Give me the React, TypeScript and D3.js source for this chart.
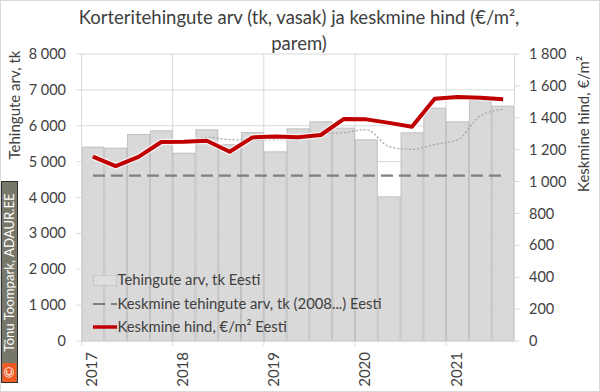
import React, { useRef, useEffect } from 'react';
import * as d3 from 'd3';

const quarters = [
  '2017 Q1', '2017 Q2', '2017 Q3', '2017 Q4',
  '2018 Q1', '2018 Q2', '2018 Q3', '2018 Q4',
  '2019 Q1', '2019 Q2', '2019 Q3', '2019 Q4',
  '2020 Q1', '2020 Q2', '2020 Q3', '2020 Q4',
  '2021 Q1', '2021 Q2', '2021 Q3',
];
const counts = [5403, 5375, 5755, 5858, 5235, 5886, 5470, 5810, 5272, 5914, 6109, 5933, 5607, 4017, 5802, 6490, 6109, 6703, 6546];
const prices = [1156, 1097, 1155, 1248, 1250, 1256, 1187, 1277, 1283, 1278, 1292, 1392, 1390, 1368, 1344, 1520, 1530, 1526, 1516];
// dotted trend (4 quarter moving average shown in chart), from Q4 2017 on
const trend = [5598, 5556, 5683, 5612, 5600, 5610, 5617, 5776, 5807, 5891, 5417, 5340, 5479, 5605, 6276, 6462];
const avgCount = 4611;
const years = ['2017', '2018', '2019', '2020', '2021'];
const leftTicks = [0, 1000, 2000, 3000, 4000, 5000, 6000, 7000, 8000];
const rightTicks = [0, 200, 400, 600, 800, 1000, 1200, 1400, 1600, 1800];

const FONT = 'Lato, "Open Sans", sans-serif';
const TXT = '#404040';

const App = () => {
  const ref = useRef<SVGSVGElement>(null);

  useEffect(() => {
    const svg = d3.select(ref.current);
    svg.selectAll('*').remove();
    const W = 600, H = 392;
    const left = 81.5, right = 514.5, top = 54, bottom = 341;

    svg.attr('width', W).attr('height', H);
    svg.append('rect').attr('x', 0.5).attr('y', 0.5).attr('width', W - 1).attr('height', H - 1)
      .attr('fill', '#fff').attr('stroke', '#d9d9d9');

    const x = d3.scaleBand().domain(quarters).range([left, right]).padding(0);
    const yL = d3.scaleLinear().domain([0, 8000]).range([bottom, top]);
    const yR = d3.scaleLinear().domain([0, 1800]).range([bottom, top]);
    const fmt = d3.formatLocale({ decimal: ',', thousands: '\u00a0', grouping: [3], currency: ['', ''] }).format(',d');
    const cx = (i: number) => x(quarters[i])! + x.bandwidth() / 2;

    // gridlines
    svg.append('g').selectAll('line').data(leftTicks.slice(1)).join('line')
      .attr('x1', left).attr('x2', right).attr('y1', (d) => yL(d)).attr('y2', (d) => yL(d))
      .attr('stroke', '#d9d9d9');
    const yearIdx = years.map((y) => quarters.indexOf(y + ' Q1'));
    svg.append('g').selectAll('line').data(yearIdx.slice(1)).join('line')
      .attr('x1', (i) => x(quarters[i])!).attr('x2', (i) => x(quarters[i])!)
      .attr('y1', top).attr('y2', bottom + 5).attr('stroke', '#d9d9d9');

    // bars
    svg.append('g').selectAll('rect').data(counts).join('rect')
      .attr('x', (d, i) => x(quarters[i])! + 0.5)
      .attr('y', (d) => yL(d))
      .attr('width', x.bandwidth() - 1)
      .attr('height', (d) => bottom - yL(d))
      .attr('fill', '#d9d9d9').attr('stroke', '#bfbfbf').attr('stroke-width', 1);

    // axes lines
    const axisG = svg.append('g').attr('stroke', '#d9d9d9');
    axisG.append('line').attr('x1', left).attr('x2', left).attr('y1', top).attr('y2', bottom + 5);
    axisG.append('line').attr('x1', right).attr('x2', right).attr('y1', top).attr('y2', bottom);
    axisG.append('line').attr('x1', left).attr('x2', right).attr('y1', bottom).attr('y2', bottom);
    axisG.selectAll('.lt').data(leftTicks).join('line').attr('class', 'lt')
      .attr('x1', left - 5).attr('x2', left).attr('y1', (d) => yL(d)).attr('y2', (d) => yL(d));
    axisG.selectAll('.rt').data(rightTicks).join('line').attr('class', 'rt')
      .attr('x1', right).attr('x2', right + 5).attr('y1', (d) => yR(d)).attr('y2', (d) => yR(d));

    // trend dotted
    const trendLine = d3.line<number>()
      .x((d, i) => cx(i + quarters.length - trend.length))
      .y((d) => yL(d))
      .curve(d3.curveMonotoneX);
    svg.append('path').datum(trend).attr('d', trendLine)
      .attr('fill', 'none').attr('stroke', '#a6a6a6').attr('stroke-width', 1.3)
      .attr('stroke-dasharray', '2,2');

    // average dashed
    svg.append('line')
      .attr('x1', cx(0)).attr('x2', cx(quarters.length - 1))
      .attr('y1', yL(avgCount)).attr('y2', yL(avgCount))
      .attr('stroke', '#7f7f7f').attr('stroke-width', 2.2).attr('stroke-dasharray', '12,6');

    // price line
    const priceLine = d3.line<number>().x((d, i) => cx(i)).y((d) => yR(d));
    svg.append('path').datum(prices).attr('d', priceLine)
      .attr('fill', 'none').attr('stroke', '#fff').attr('stroke-opacity', 0.7)
      .attr('stroke-width', 6.5).attr('stroke-linejoin', 'round');
    svg.append('path').datum(prices).attr('d', priceLine)
      .attr('fill', 'none').attr('stroke', '#c00000').attr('stroke-width', 4)
      .attr('stroke-linejoin', 'round');

    // tick labels
    svg.append('g').selectAll('text').data(leftTicks).join('text')
      .attr('x', 66).attr('y', (d) => yL(d)).attr('dy', '0.35em')
      .attr('text-anchor', 'end').attr('font-family', FONT).attr('font-size', 14.5)
      .attr('fill', TXT).text((d) => fmt(d));
    svg.append('g').selectAll('text').data(rightTicks).join('text')
      .attr('x', 529).attr('y', (d) => yR(d)).attr('dy', '0.35em')
      .attr('text-anchor', 'start').attr('font-family', FONT).attr('font-size', 14.5)
      .attr('fill', TXT).text((d) => fmt(d));
    svg.append('g').selectAll('text').data(yearIdx).join('text')
      .attr('transform', (i) => `translate(${cx(i) + 4},352) rotate(-90)`)
      .attr('text-anchor', 'end').attr('font-family', FONT).attr('font-size', 15)
      .attr('fill', TXT).text((i, k) => years[k]);

    // axis titles
    svg.append('text').attr('transform', 'translate(20,105) rotate(-90)')
      .attr('text-anchor', 'middle').attr('font-family', FONT).attr('font-size', 15)
      .attr('fill', TXT).text('Tehingute arv, tk');
    svg.append('text').attr('transform', 'translate(589,124) rotate(-90)')
      .attr('text-anchor', 'middle').attr('font-family', FONT).attr('font-size', 15)
      .attr('fill', TXT).text('Keskmine hind, €/m²');

    // title
    const title = svg.append('text').attr('text-anchor', 'middle').attr('font-family', FONT)
      .attr('font-size', 18.5).attr('fill', TXT);
    title.append('tspan').attr('x', 299).attr('y', 24).text('Korteritehingute arv (tk, vasak) ja keskmine hind (€/m²,');
    title.append('tspan').attr('x', 299).attr('y', 50).text('parem)');

    // legend
    const lg = svg.append('g').attr('font-family', FONT).attr('font-size', 14.8).attr('fill', TXT);
    const rows = [
      { label: 'Tehingute arv, tk Eesti', y: 280 },
      { label: 'Keskmine tehingute arv, tk (2008...) Eesti', y: 304 },
      { label: 'Keskmine hind, €/m² Eesti', y: 327 },
    ];
    lg.append('rect').attr('x', 93.5).attr('y', 275.5).attr('width', 23).attr('height', 10)
      .attr('fill', '#dedede').attr('stroke', '#c8c8c8');
    lg.append('line').attr('x1', 93).attr('x2', 117).attr('y1', rows[1].y).attr('y2', rows[1].y)
      .attr('stroke', '#7f7f7f').attr('stroke-width', 2).attr('stroke-dasharray', '12,6');
    lg.append('line').attr('x1', 93).attr('x2', 117).attr('y1', rows[2].y).attr('y2', rows[2].y)
      .attr('stroke', '#c00000').attr('stroke-width', 3.5);
    lg.selectAll('text').data(rows).join('text')
      .attr('x', 117.5).attr('y', (d) => d.y).attr('dy', '0.35em').text((d) => d.label);

    // watermark
    svg.append('rect').attr('x', 1.5).attr('y', 181.5).attr('width', 16).attr('height', 201)
      .attr('fill', '#78786a').attr('stroke', '#2f2f2f');
    svg.append('rect').attr('x', 2.5).attr('y', 363).attr('width', 14).attr('height', 19)
      .attr('fill', '#f15a22');
    svg.append('text').attr('transform', 'translate(14,272.5) rotate(-90)')
      .attr('text-anchor', 'middle').attr('font-family', FONT).attr('font-size', 13.2)
      .attr('fill', '#fff').text('Tõnu Toompark, ADAUR.EE');
    svg.append('text').attr('transform', 'translate(14,372.5) rotate(-90)')
      .attr('text-anchor', 'middle').attr('font-family', FONT).attr('font-size', 14)
      .attr('fill', '#fff').text('©');
  }, []);

  return <svg ref={ref} style={{ position: 'absolute', left: 0, top: 0 }}></svg>;
};

export default App;
